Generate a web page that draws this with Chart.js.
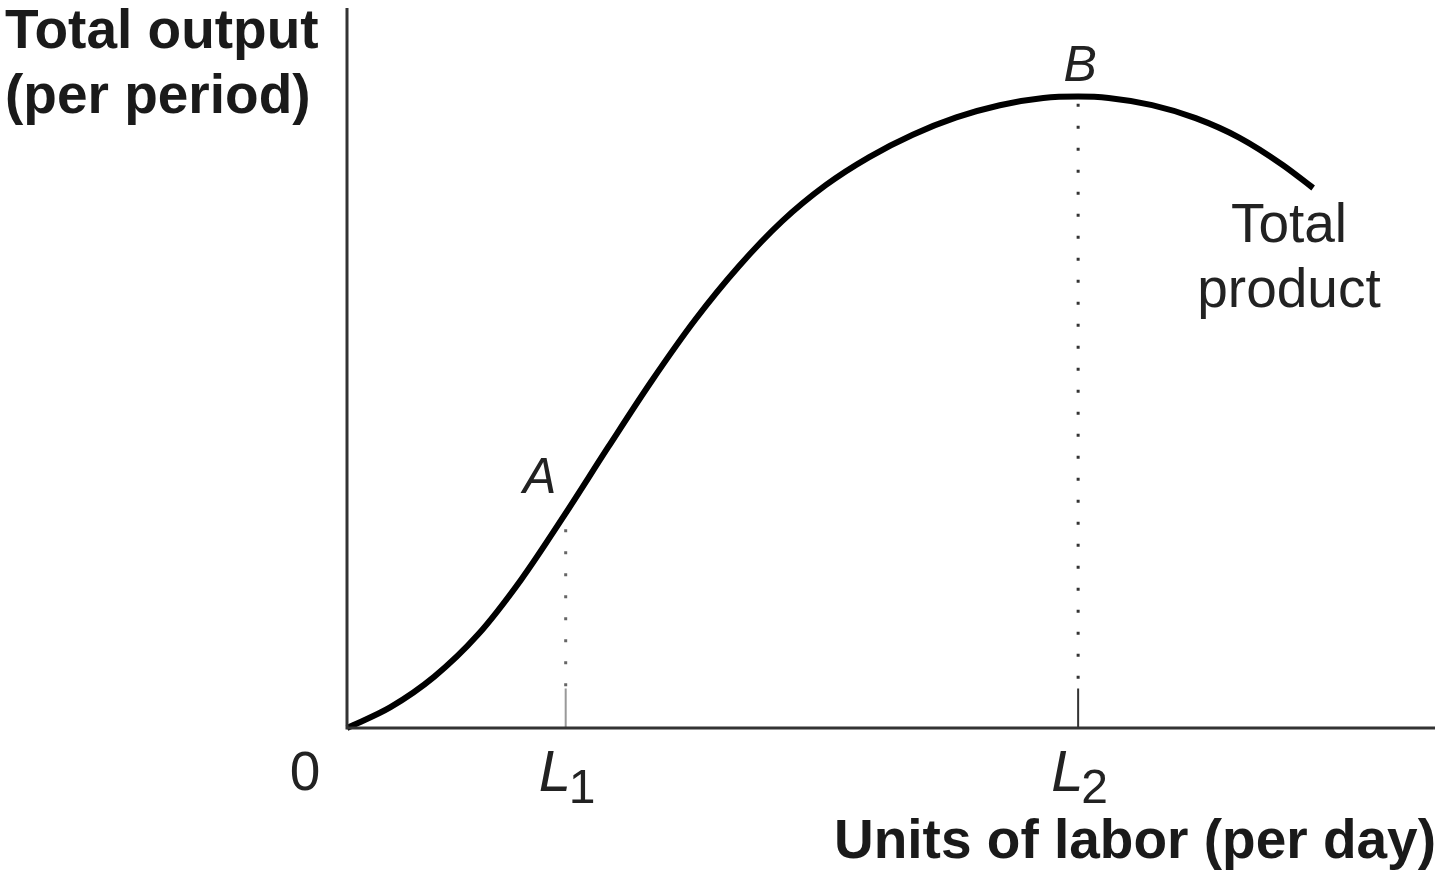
<!DOCTYPE html>
<html>
<head>
<meta charset="utf-8">
<title>Total product</title>
<script src="https://cdn.jsdelivr.net/npm/chart.js@4/dist/chart.umd.min.js"></script>
<style>
  html, body { margin: 0; padding: 0; background: #fff; }
  #wrap { width: 1440px; height: 873px; }
</style>
</head>
<body>
<div id="wrap"><canvas id="tpChart" width="1440" height="873"></canvas></div>
<script>
// labor units (x) and total output (y)
const labor = [0, 4, 8, 12, 16, 20, 24, 28, 32, 36, 40, 44, 48, 52, 56, 60, 64, 67.2, 70, 74, 78, 82, 86, 88.8];
const output = [0, 2.9, 7.1, 12.9, 20.6, 29.6, 39.0, 48.2, 56.7, 64.1, 70.4, 75.4, 79.3, 82.4, 84.8, 86.5, 87.5, 87.7, 87.5, 86.5, 84.7, 82.0, 78.2, 75.0];

const L1 = 20.1, L2 = 67.2;
const outA = 29.8, outB = 87.7;
const tickTop = 5.5;

const curve = labor.map((x, i) => ({ x: x, y: output[i] }));

// axes lines, labels and text
const labelsPlugin = {
  id: "labels",
  afterDatasetsDraw(chart) {
    const ctx = chart.ctx;
    const xs = chart.scales.x, ys = chart.scales.y;
    const x0 = xs.getPixelForValue(0), y0 = ys.getPixelForValue(0);
    ctx.save();
    ctx.strokeStyle = "#333";
    ctx.lineWidth = 3;
    ctx.beginPath();
    ctx.moveTo(x0, ys.getPixelForValue(ys.max));
    ctx.lineTo(x0, y0);
    ctx.lineTo(xs.getPixelForValue(xs.max), y0);
    ctx.stroke();

    ctx.fillStyle = "#1a1a1a";
    ctx.textBaseline = "alphabetic";
    ctx.font = "bold 55px 'Liberation Sans', Arial, sans-serif";
    ctx.textAlign = "left";
    ctx.fillText("Total output", 5, 48);
    ctx.fillText("(per period)", 5, 113);
    ctx.textAlign = "right";
    ctx.fillText("Units of labor (per day)", 1436, 858);

    ctx.fillStyle = "#222";
    ctx.font = "55px 'Liberation Sans', Arial, sans-serif";
    ctx.textAlign = "center";
    ctx.fillText("0", x0 - 42, 790);
    const tx = 1289;
    ctx.fillText("Total", tx, 242);
    ctx.fillText("product", tx, 307);

    // italic point labels
    ctx.font = "italic 50px 'Liberation Sans', Arial, sans-serif";
    ctx.fillText("A", xs.getPixelForValue(L1) - 26, ys.getPixelForValue(outA) - 20);
    ctx.fillText("B", xs.getPixelForValue(L2) + 2, ys.getPixelForValue(outB) - 16);

    // L1, L2 with subscripts
    [[L1, "1"], [L2, "2"]].forEach(([v, sub]) => {
      const px = xs.getPixelForValue(v);
      ctx.font = "italic 58px 'Liberation Sans', Arial, sans-serif";
      ctx.textAlign = "left";
      ctx.fillText("L", px - 27, 791);
      ctx.font = "48px 'Liberation Sans', Arial, sans-serif";
      ctx.fillText(sub, px + 3, 803);
    });
    ctx.restore();
  }
};

new Chart(document.getElementById("tpChart").getContext("2d"), {
  type: "scatter",
  data: {
    datasets: [
      {
        label: "Total product",
        data: curve,
        showLine: true,
        borderColor: "#000",
        borderWidth: 6,
        pointRadius: 0,
        cubicInterpolationMode: "monotone",
        clip: false
      },
      {
        label: "L1 dotted",
        data: [{ x: L1, y: outA - 2.2 }, { x: L1, y: tickTop }],
        showLine: true,
        borderColor: "#666",
        borderWidth: 3,
        borderDash: [3, 19],
        pointRadius: 0
      },
      {
        label: "L1 tick",
        data: [{ x: L1, y: tickTop }, { x: L1, y: 0 }],
        showLine: true,
        borderColor: "#999",
        borderWidth: 2,
        pointRadius: 0
      },
      {
        label: "L2 dotted",
        data: [{ x: L2, y: outB - 1 }, { x: L2, y: tickTop }],
        showLine: true,
        borderColor: "#333",
        borderWidth: 3,
        borderDash: [3, 19],
        pointRadius: 0
      },
      {
        label: "L2 tick",
        data: [{ x: L2, y: tickTop }, { x: L2, y: 0 }],
        showLine: true,
        borderColor: "#333",
        borderWidth: 2,
        pointRadius: 0
      }
    ]
  },
  options: {
    responsive: false,
    animation: false,
    events: [],
    layout: { padding: { left: 347, right: 5, top: 8, bottom: 145 } },
    plugins: { legend: { display: false }, tooltip: { enabled: false } },
    scales: {
      x: { type: "linear", min: 0, max: 100, display: false },
      y: { type: "linear", min: 0, max: 100, display: false }
    }
  },
  plugins: [labelsPlugin]
});
</script>
</body>
</html>
